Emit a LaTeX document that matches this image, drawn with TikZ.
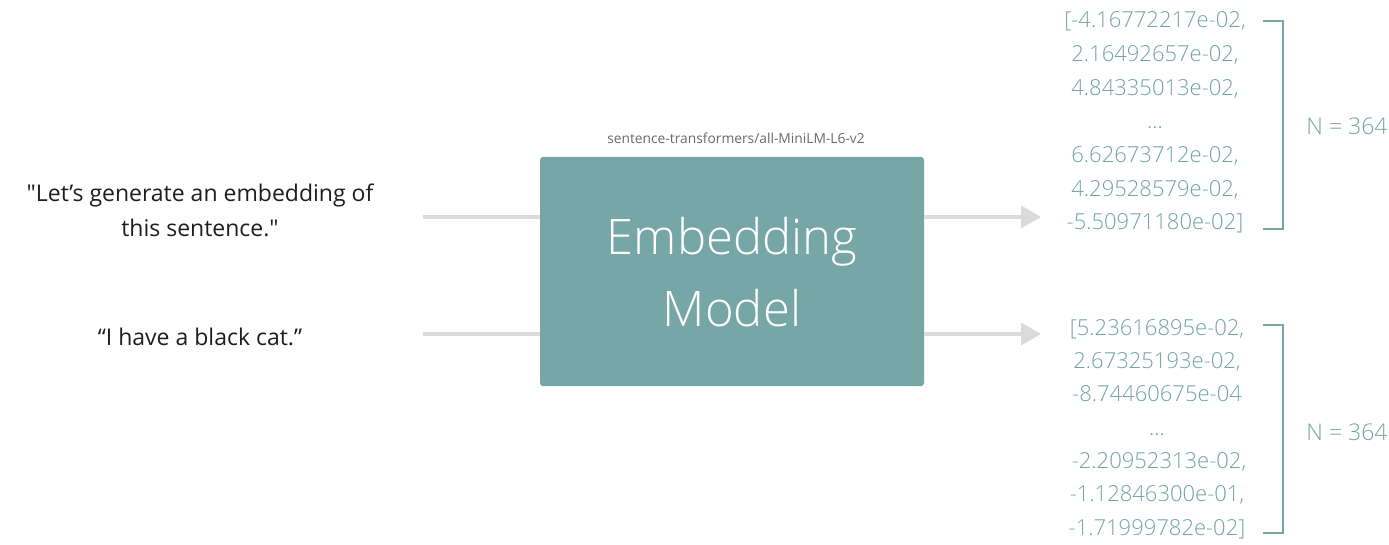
\documentclass[tikz,border=0pt]{standalone}
\usepackage{fontspec}
\setmainfont{Open Sans}
\newfontfamily\oslight{Open Sans Light}
\newfontfamily\osplain{Open Sans}
\usetikzlibrary{arrows.meta}
\definecolor{tealbox}{HTML}{77A6A7}
\definecolor{tealtext}{HTML}{72A3A3}
\definecolor{arrowgray}{HTML}{DADADA}
\definecolor{lblgray}{HTML}{6A6A6A}
\definecolor{sentcol}{HTML}{1E1E1E}
\newcommand{\sq}{{\osplain"}}
\tikzset{
  sent/.style={anchor=base, inner sep=0pt, text=sentcol, font=\fontsize{23}{28}\selectfont},
  vecline/.style={anchor=base, inner sep=0pt, text=tealtext, font=\oslight\fontsize{22}{26}\selectfont},
  ncount/.style={anchor=base, inner sep=0pt, text=tealtext, font=\oslight\fontsize{23}{28}\selectfont},
  modelbox/.style={fill=tealbox, rounded corners=3pt, minimum width=384pt, minimum height=229pt, inner sep=0pt},
  inline/.style={draw=arrowgray, line width=4pt},
  outarrow/.style={draw=arrowgray, line width=4pt, -{Triangle[length=20pt,width=22pt]}},
  brack/.style={draw=tealbox, line width=2pt},
}
\begin{document}
\begin{tikzpicture}[x=1pt,y=-1pt]
\useasboundingbox (0,0) rectangle (1389,545);
% model box
\node[modelbox] (model) at (732,271.5) {};
\node[anchor=base, inner sep=0pt, text=white, font=\oslight\fontsize{49}{58}\selectfont] (emb) at (732,254.5) {Embedding};
\node[anchor=base, inner sep=0pt, text=white, font=\oslight\fontsize{49}{58}\selectfont] (mdl) at (732,326) {Model};
\node[anchor=base, inner sep=0pt, text=lblgray, font=\fontsize{13.8}{16}\selectfont] (lbl) at (736,144) {sentence-transformers/all-MiniLM-L6-v2};
% sentences
\node[sent] (s1a) at (200,202) {\sq Let’s generate an embedding of};
\node[sent] (s1b) at (200,237) {this sentence.\sq};
\node[sent] (s2) at (200,345) {“I have a black cat.”};
% connectors
\coordinate (in1) at (423,217);
\coordinate (in2) at (423,334);
\coordinate (out1) at (1041,217);
\coordinate (out2) at (1041,334);
\draw[inline] (in1) -- (in1 -| model.west);
\draw[inline] (in2) -- (in2 -| model.west);
\draw[outarrow] (model.east |- out1) -- (out1);
\draw[outarrow] (model.east |- out2) -- (out2);
% vector 1
\node[vecline] (v1a) at (1155,28) {[-4.16772217e-02,};
\node[vecline] (v1b) at (1155,61.7) {2.16492657e-02,};
\node[vecline] (v1c) at (1155,95.3) {4.84335013e-02,};
\node[vecline] (v1d) at (1155,129) {...};
\node[vecline] (v1e) at (1155,162.7) {6.62673712e-02,};
\node[vecline] (v1f) at (1155,196.3) {4.29528579e-02,};
\node[vecline] (v1g) at (1155,230) {-5.50971180e-02]};
\draw[brack] (1263,21) -| (1283,229) -- (1263,229);
\node[ncount] (n1) at (1347,135) {N = 364};
% vector 2
\node[vecline] (v2a) at (1157,335) {[5.23616895e-02,};
\node[vecline] (v2b) at (1157,368.3) {2.67325193e-02,};
\node[vecline] (v2c) at (1157,401.7) {-8.74460675e-04};
\node[vecline] (v2d) at (1157,435) {...};
\node[vecline] (v2e) at (1159,468.3) {-2.20952313e-02,};
\node[vecline] (v2f) at (1157,501.7) {-1.12846300e-01,};
\node[vecline] (v2g) at (1157,535) {-1.71999782e-02]};
\draw[brack] (1263,325) -| (1283,533) -- (1263,533);
\node[ncount] (n2) at (1347,440) {N = 364};
\end{tikzpicture}
\end{document}
